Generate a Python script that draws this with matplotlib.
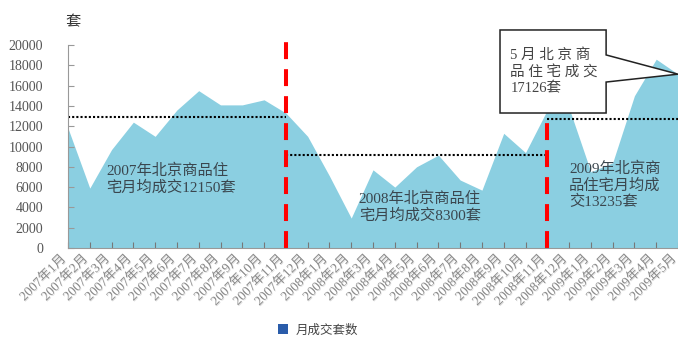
import matplotlib
matplotlib.use("Agg")
import matplotlib.pyplot as plt
import matplotlib.transforms as mtrans
from matplotlib.patches import Polygon, Patch
import matplotlib.patheffects as pe

# monthly deals (sets)
months = ["2007年%d月" % m for m in range(1, 13)] + \
         ["2008年%d月" % m for m in range(1, 13)] + \
         ["2009年%d月" % m for m in range(1, 6)]
deals = [11800, 5900, 9700, 12400, 11000, 13600, 15500, 14100, 14100, 14600,
         13300, 11000, 7100, 2950, 7700, 6000, 8000, 9150, 6700, 5700,
         11300, 9400, 13600, 13800, 7500, 8400, 15000, 18600, 17126]

# yearly average lines: (start index, end index, level)
avg_start = [0, 10, 22]
avg_end = [10, 22, 28]
avg_level = [12900, 9150, 12700]
divider_idx = [10, 22]

yticks = list(range(0, 20001, 2000))

serif_cjk = ["Liberation Serif", "Noto Sans CJK SC"]
cjk = ["Noto Sans CJK SC", "DejaVu Sans"]

W, H = 678, 339
fig = plt.figure(figsize=(W / 100, H / 100), dpi=100)
ax = fig.add_axes([68 / W, (H - 248) / H, (678 - 68) / W, (248 - 45) / H])

x = list(range(len(deals)))
ax.fill_between(x, deals, 0, color="#8bcfe1", lw=0, zorder=1)

for s, e, lv in zip(avg_start, avg_end, avg_level):
    ax.plot([s, e], [lv, lv], color="black", lw=1.5, ls=(0, (1, 1)), zorder=3)

for d in divider_idx:
    ax.plot([d, d], [0, 20300], color="#ff0000", lw=2.9, ls=(0, (4.2, 2.5)),
            zorder=4, clip_on=False, solid_capstyle="butt", dash_capstyle="butt")

ax.set_xlim(0, len(deals) - 1)
ax.set_ylim(0, 20000)
ax.set_xticks(x)
ax.set_xticklabels(months, rotation=45, ha="right", va="top",
                   rotation_mode="anchor", fontsize=9.5, color="#8a8a8a",
                   family=serif_cjk)
ax.set_yticks(yticks)
ax.set_yticklabels([str(v) for v in yticks], fontsize=10, color="#555555",
                   family="Liberation Serif")
ax.tick_params(axis="y", direction="in", length=4, pad=18, color="#999999")
ax.tick_params(axis="x", direction="in", length=4, pad=3, color="#777777")
for sp in ["top", "right"]:
    ax.spines[sp].set_visible(False)
for sp in ["left", "bottom"]:
    ax.spines[sp].set_color("#999999")
    ax.spines[sp].set_zorder(5)
ax.set_axisbelow(False)

shift = mtrans.ScaledTranslation(-6 / 72, 0, fig.dpi_scale_trans)
for lab in ax.get_xticklabels():
    lab.set_transform(lab.get_transform() + shift)
    lab.set_path_effects([pe.withSimplePatchShadow(offset=(0.6, -0.6),
                                                   shadow_rgbFace="#dddddd",
                                                   alpha=1)])

# yearly text notes
txt_col = "#3a464e"
ax.text(1.75, 6800, "2007年北京商品住\n宅月均成交12150套", fontsize=11,
        color=txt_col, family=serif_cjk, va="center", ha="left",
        linespacing=1.2, zorder=6)
ax.text(13.35, 4000, "2008年北京商品住\n宅月均成交8300套", fontsize=11,
        color=txt_col, family=serif_cjk, va="center", ha="left",
        linespacing=1.2, zorder=6)
ax.text(23.0, 6200, "2009年北京商\n品住宅月均成\n交13235套", fontsize=11,
        color=txt_col, family=serif_cjk, va="center", ha="left",
        linespacing=1.2, zorder=6)

# callout for the latest month
tip_x, tip_y = len(deals) - 1, deals[-1]
bx0, bx1, by0, by1 = 19.83, 24.7, 13300, 21480
callout = Polygon([[bx0, by0], [bx0, by1], [bx1, by1], [bx1, 19020],
                   [tip_x, tip_y], [bx1, 16350], [bx1, by0]],
                  closed=True, facecolor="white", edgecolor="#222222",
                  lw=1.1, zorder=7, clip_on=False)
ax.add_patch(callout)
ax.text(20.3, 17340, "5 月 北 京 商\n品 住 宅 成 交\n%d套" % deals[-1],
        fontsize=10.5, color="#444444", family=serif_cjk, va="center",
        ha="left", linespacing=1.3, zorder=8)

fig.text(73 / W, 1 - 22 / H, "套", fontsize=11, color="#333333",
         family=cjk, ha="center", va="center")

fig.legend(handles=[Patch(facecolor="#2a5caa", edgecolor="none",
                          label="月成交套数")],
           loc="center", bbox_to_anchor=(318 / W, 1 - 330 / H), frameon=False,
           prop={"family": cjk, "size": 9}, handlelength=0.8, handleheight=0.8,
           handletextpad=0.6, labelcolor="#444444")

fig.savefig("out.png", dpi=100)
